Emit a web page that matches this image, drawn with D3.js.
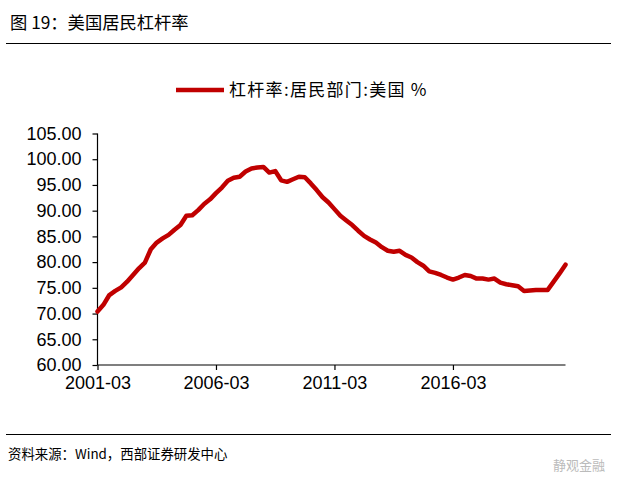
<!DOCTYPE html>
<html>
<head>
<meta charset="utf-8">
<script src="https://cdn.jsdelivr.net/npm/d3@7"></script>
<style>
  body { margin: 0; background: #fff; }
  svg { display: block; }
  .axis text { font-family: "Liberation Sans", Arial, sans-serif; font-size: 18px; fill: #000; }
</style>
</head>
<body>
<svg id="chart" width="630" height="494"></svg>
<script>
// quarterly, 2001-03 .. 2020-12
var startYear = 2001;
var leverage = [
  70.4, 71.7, 73.6, 74.4, 75.1, 76.2, 77.5, 78.8, 79.9, 82.5,
  83.8, 84.6, 85.3, 86.3, 87.2, 89.0, 89.1, 90.1, 91.3, 92.2,
  93.4, 94.5, 95.8, 96.4, 96.6, 97.6, 98.2, 98.4, 98.5, 97.4,
  97.7, 95.9, 95.6, 96.1, 96.6, 96.5, 95.3, 94.0, 92.6, 91.6,
  90.3, 89.0, 88.1, 87.2, 86.1, 85.1, 84.4, 83.8, 82.9, 82.2,
  82.0, 82.2, 81.4, 80.9, 80.0, 79.3, 78.2, 77.9, 77.5, 77.0,
  76.6, 77.0, 77.5, 77.3, 76.8, 76.8, 76.6, 76.8, 76.0, 75.7,
  75.5, 75.3, 74.4, 74.5, 74.6, 74.6, 74.6, 76.2, 77.8, 79.5
];
var yTicks = [60, 65, 70, 75, 80, 85, 90, 95, 100, 105];
var xTickLabels = ["2001-03", "2006-03", "2011-03", "2016-03"];

var months = ["03", "06", "09", "12"];
var quarters = leverage.map(function(d, i) {
  return (startYear + Math.floor(i / 4)) + "-" + months[i % 4];
});

var margin = {top: 133.5, left: 97.5},
    width  = 468,
    height = 231.5;

var svg = d3.select("#chart");
var red = "#C00000";
var cjk = "'Noto Sans CJK SC', sans-serif";

// title + rules
svg.append("text")
  .attr("x", 10).attr("y", 29)
  .attr("font-family", cjk).attr("font-size", 17.3)
  .attr("fill", "#000")
  .text("图 19：美国居民杠杆率");
svg.append("line")
  .attr("x1", 6).attr("x2", 611).attr("y1", 43.5).attr("y2", 43.5)
  .attr("stroke", "#000").attr("stroke-width", 1.2);
svg.append("line")
  .attr("x1", 6).attr("x2", 611).attr("y1", 434.5).attr("y2", 434.5)
  .attr("stroke", "#000").attr("stroke-width", 1.2);
svg.append("text")
  .attr("x", 8).attr("y", 459)
  .attr("font-family", cjk).attr("font-size", 13.4)
  .attr("fill", "#000")
  .text("资料来源：Wind，西部证券研发中心");
svg.append("text")
  .attr("x", 553).attr("y", 470)
  .attr("font-family", cjk).attr("font-size", 13)
  .attr("fill", "#bbb")
  .text("静观金融");

// legend
svg.append("line")
  .attr("x1", 176).attr("x2", 224).attr("y1", 90).attr("y2", 90)
  .attr("stroke", red).attr("stroke-width", 4.5);
svg.append("text")
  .attr("x", 229).attr("y", 96)
  .attr("font-family", cjk).attr("font-size", 17)
  .attr("letter-spacing", 1.3)
  .attr("fill", "#000")
  .text("杠杆率:居民部门:美国 %");

var x = d3.scalePoint()
  .domain(quarters)
  .range([0, width]);

var y = d3.scaleLinear()
  .domain([60, 105])
  .range([height, 0]);

var g = svg.append("g")
  .attr("transform", "translate(" + margin.left + "," + margin.top + ")");

var yAxis = g.append("g")
  .attr("class", "axis")
  .call(d3.axisLeft(y).tickValues(yTicks).tickSize(5).tickPadding(11)
    .tickFormat(d3.format(".2f")));

var xAxis = g.append("g")
  .attr("class", "axis")
  .attr("transform", "translate(0," + height + ")")
  .call(d3.axisBottom(x).tickValues(xTickLabels).tickSize(5).tickPadding(6));

[yAxis, xAxis].forEach(function(a) {
  a.attr("font-family", null).attr("font-size", null);
  a.select(".domain").attr("stroke", "#000").attr("stroke-width", 1.2);
  a.selectAll(".tick line").attr("stroke", "#000").attr("stroke-width", 1.2);
});
xAxis.select(".domain").attr("d", "M0,0H" + width);
yAxis.select(".domain").attr("d", "M0,0V" + height);

g.append("path")
  .datum(leverage)
  .attr("fill", "none")
  .attr("stroke", red)
  .attr("stroke-width", 4.5)
  .attr("stroke-linejoin", "round")
  .attr("stroke-linecap", "round")
  .attr("d", d3.line()
    .x(function(d, i) { return x(quarters[i]); })
    .y(function(d) { return y(d); }));
</script>
</body>
</html>
